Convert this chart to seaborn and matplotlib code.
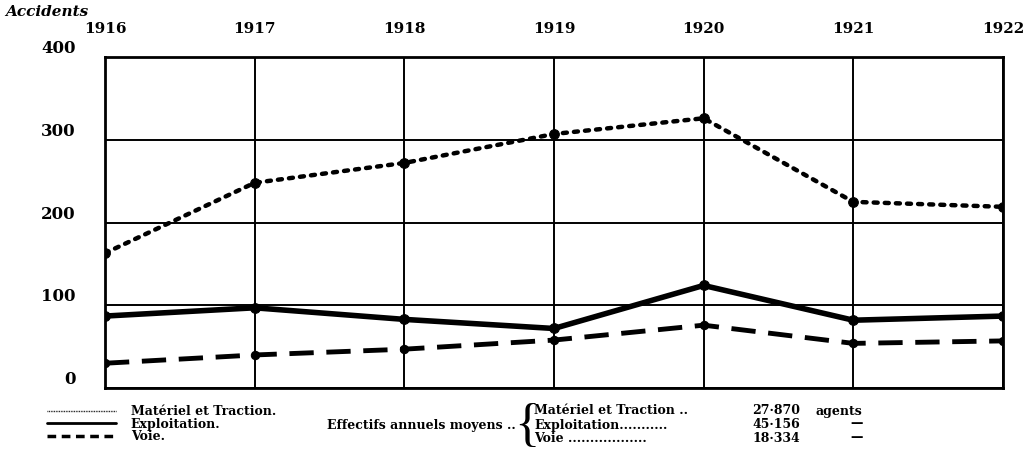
import matplotlib.pyplot as plt
import numpy as np
import pandas as pd
import seaborn as sns
from matplotlib.lines import Line2D

years = [1916, 1917, 1918, 1919, 1920, 1921, 1922]
materiel = [163, 248, 272, 307, 326, 225, 219]
exploitation = [87, 97, 83, 72, 124, 82, 87]
voie = [30, 40, 47, 58, 76, 54, 57]
y_ticks = [0, 100, 200, 300, 400]

effectifs_labels = ['Matériel et Traction ..', 'Exploitation...........', 'Voie ..................']
effectifs_values = ['27·870', '45·156', '18·334']

sns.set_style('white')
plt.rcParams['font.family'] = ['DejaVu Serif']
plt.rcParams['text.color'] = 'black'
plt.rcParams['xtick.color'] = 'black'
plt.rcParams['ytick.color'] = 'black'

fig = plt.figure(figsize=(10.23, 4.62), dpi=100)
ax = fig.add_axes([0.1026, 0.160, 0.8778, 0.7166])

df = pd.DataFrame({'annee': years, 'mat': materiel, 'exp': exploitation, 'voie': voie})

mk = dict(marker='o', markeredgecolor='black', markerfacecolor='black')
sns.lineplot(data=df, x='annee', y='mat', ax=ax, color='black', lw=3.2,
             linestyle=(0, (0.9, 1.6)), dash_capstyle='round',
             markersize=7, zorder=5, **mk)
sns.lineplot(data=df, x='annee', y='exp', ax=ax, color='black', lw=4,
             markersize=7, zorder=5, **mk)
sns.lineplot(data=df, x='annee', y='voie', ax=ax, color='black', lw=3.5,
             linestyle=(0, (5, 2.6)), markersize=6, zorder=5, **mk)

ax.set_xlim(1916, 1922)
ax.set_ylim(0, 400)
ax.set_xticks(years)
ax.set_xticklabels([str(y) for y in years], fontsize=11, fontweight='bold')
ax.set_yticks(y_ticks)
ax.set_yticklabels([str(v) for v in y_ticks], fontsize=12, fontweight='bold')
ax.xaxis.tick_top()
ax.tick_params(axis='x', length=0, pad=15)
ax.tick_params(axis='y', length=0, pad=21)
for lab in ax.get_yticklabels():
    lab.set_verticalalignment('bottom')
ax.grid(True, color='black', lw=1.4)
for s in ax.spines.values():
    s.set_color('black')
    s.set_linewidth(2)
ax.set_xlabel('')
ax.set_ylabel('')

fig.text(5 / 1023, 1 - 12 / 462, 'Accidents', fontsize=11, fontstyle='italic',
         fontweight='bold', va='center', ha='left')

# legende
handles = [
    Line2D([], [], color='black', lw=1, linestyle=(0, (0.6, 0.6))),
    Line2D([], [], color='black', lw=2),
    Line2D([], [], color='black', lw=2.5, linestyle=(0, (2.5, 1.6))),
]
labels = ['Matériel et Traction.', 'Exploitation.', 'Voie.']
fig.legend(handles, labels, loc='upper left', bbox_to_anchor=(0.035, 0.147),
           frameon=False, handlelength=5.5, handletextpad=1.2, labelspacing=-0.05,
           prop={'family': 'DejaVu Serif', 'weight': 'bold', 'size': 9})

fig.text(516 / 1023, 1 - 425 / 462, 'Effectifs annuels moyens ..', fontsize=9,
         fontweight='bold', ha='right', va='center')
fig.text(527 / 1023, 1 - 427 / 462, '{', fontsize=38, family='Liberation Serif',
         ha='center', va='center')
row_y = [411, 425, 439]
for lab, val, yy in zip(effectifs_labels, effectifs_values, row_y):
    fig.text(534 / 1023, 1 - yy / 462, lab, fontsize=9, fontweight='bold', ha='left', va='center')
    fig.text(752 / 1023, 1 - yy / 462, val, fontsize=9, fontweight='bold', ha='left', va='center')
fig.text(815 / 1023, 1 - 411 / 462, 'agents', fontsize=9, fontweight='bold', ha='left', va='center')
fig.text(857 / 1023, 1 - 424 / 462, '—', fontsize=9, fontweight='bold', ha='center', va='center')
fig.text(857 / 1023, 1 - 438 / 462, '—', fontsize=9, fontweight='bold', ha='center', va='center')

fig.savefig('out.png', dpi=100)
